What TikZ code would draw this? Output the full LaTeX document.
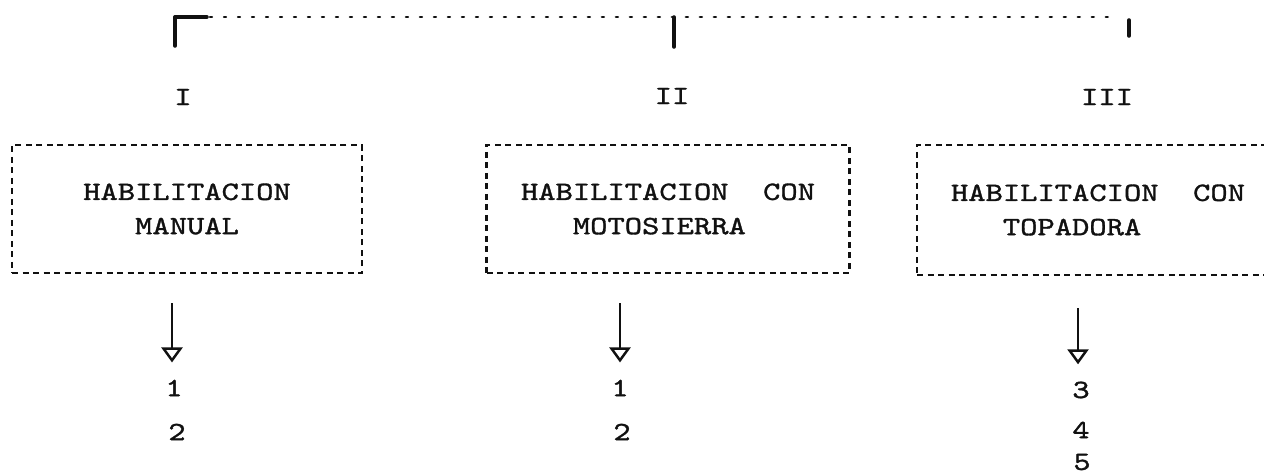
\documentclass[tikz,border=0pt]{standalone}
\usepackage{fontspec}
\newfontfamily\typewriter[FakeStretch=1.25,FakeBold=1.3]{lmmono10-regular.otf}
\usepackage{tikz}
\usetikzlibrary{arrows.meta,positioning}
\definecolor{typeink}{HTML}{111111}

\begin{document}
\begin{tikzpicture}[x=0.02cm,y=-0.02cm,
    typed/.style={font=\typewriter\fontsize{15}{19.5}\selectfont,text=typeink,inner sep=0pt},
    dashbox/.style={typed,draw=typeink,line width=1.3pt,dash pattern=on 0.12cm off 0.09cm,
                    align=center},
    dotline/.style={draw=typeink,line width=1.4pt,line cap=round,dash pattern=on 0.04cm off 0.24cm},
    tick/.style={draw=typeink,line width=2pt,line cap=round},
    flow/.style={draw=typeink,line width=1.5pt,
                 -{Triangle[open,length=0.3cm,width=0.42cm,line width=1.4pt]}}]
  \useasboundingbox (0,0) rectangle (1264,476);

  % bracket on top
  \coordinate (brL) at (175,17);
  \coordinate (brM) at (674,17);
  \coordinate (brR) at (1129,17);
  \draw[tick] (brL) -- ++(0,29);
  \draw[tick] (brL) -- ++(32,0);
  \draw[dotline] ([xshift=0.7cm]brL) -- ([xshift=-0.3cm]brR);
  \draw[tick] (brM) -- ++(0,30);
  \draw[tick] ([yshift=-0.06cm]brR) -- ++(0,16);

  \node[typed] (labI)   at (183,97)  {I};
  \node[typed] (labII)  at (672,96)  {II};
  \node[typed] (labIII) at (1107,97) {III};

  \node[dashbox,minimum width=7cm,minimum height=2.56cm] (manual) at (187,209)
    {HABILITACION\\MANUAL};
  \node[dashbox,minimum width=7.26cm,minimum height=2.56cm] (motosierra) at (668,209)
    {HABILITACION\ \ CON\\MOTOSIERRA\phantom{X}};
  \node[dashbox,minimum width=7.24cm,minimum height=2.6cm] (topadora) at (1098,210)
    {HABILITACION\ \ CON\\TOPADORA\phantom{XXX}};

  % column I
  \node[typed] (m1) at (174,388) {1};
  \node[typed] (m2) at (177,432) {2};
  \coordinate (fromI) at (172,303);
  \draw[flow,shorten >=0.34cm] (fromI) -- (fromI |- m1.north);

  % column II
  \node[typed] (s1) at (620,388) {1};
  \node[typed] (s2) at (622,432) {2};
  \coordinate (fromII) at (620,303);
  \draw[flow,shorten >=0.34cm] (fromII) -- (fromII |- s1.north);

  % column III
  \node[typed] (t3) at (1081,390) {3};
  \node[typed] (t4) at (1081,430) {4};
  \node[typed] (t5) at (1082,462) {5};
  \coordinate (fromIII) at (1078,308);
  \draw[flow,shorten >=0.34cm] (fromIII) -- (fromIII |- t3.north);
\end{tikzpicture}
\end{document}
